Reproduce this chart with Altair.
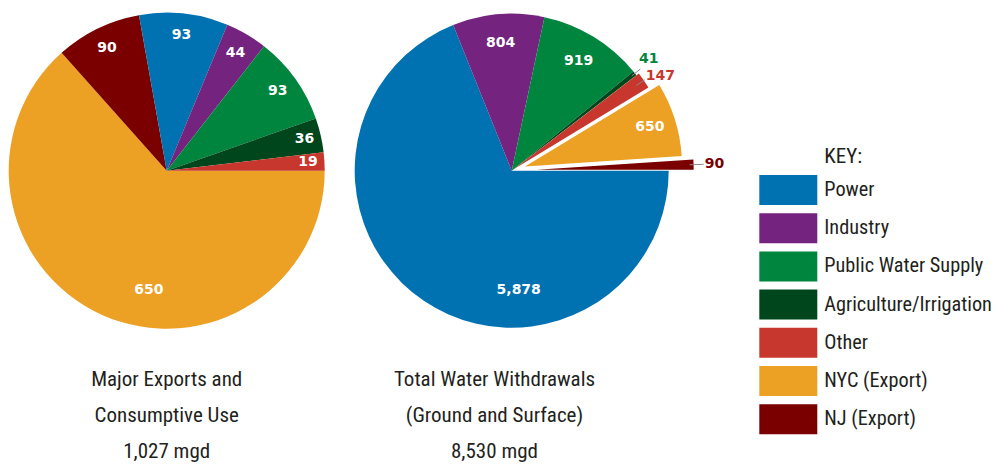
import math
import altair as alt
import pandas as pd

# ---------------- data ----------------
categories = ["Power", "Industry", "Public Water Supply", "Agriculture/Irrigation",
              "Other", "NYC (Export)", "NJ (Export)"]
colors = ["#0072b2", "#74237f", "#00853e", "#00461c", "#c8372d", "#eca024", "#7a0000"]

# Left pie: Major Exports and Consumptive Use (mgd), in drawing order (clockwise from 3 o'clock)
left_order = ["NYC (Export)", "NJ (Export)", "Power", "Industry", "Public Water Supply",
              "Agriculture/Irrigation", "Other"]
left_values = [650, 90, 93, 44, 93, 36, 19]

# Right pie: Total Water Withdrawals (Ground and Surface), mgd
right_order = ["Power", "Industry", "Public Water Supply", "Agriculture/Irrigation",
               "Other", "NYC (Export)", "NJ (Export)"]
right_values = [5878, 804, 919, 41, 147, 650, 90]

left_title = ["Major Exports and", "Consumptive Use", "1,027 mgd"]
right_title = ["Total Water Withdrawals", "(Ground and Surface)", "8,530 mgd"]
key_title = "KEY:"

rows = []
for i, (c, v) in enumerate(zip(left_order, left_values)):
    rows.append({"pie": "A", "cat": c, "value": v, "ord": i})
for i, (c, v) in enumerate(zip(right_order, right_values)):
    rows.append({"pie": "B", "cat": c, "value": v, "ord": i})
df = pd.DataFrame(rows)

# ---------------- styles ----------------
NARROW = ("'Noto Sans Condensed', 'Roboto Condensed', 'Open Sans Condensed', "
          "'Ubuntu Condensed', 'Liberation Sans Narrow', 'Noto Sans'")
NARROW_SIZE = 21
LEGEND_SIZE = 20.3
NUMFONT = "DejaVu Sans"
TXT = "#231f20"
CX = {"A": 158.7, "B": 503.7}
CY = 162.7
RADIUS = {"A": 158, "B": 157}

explode = {"B|Other": 3, "B|NYC (Export)": 14, "B|NJ (Export)": 25}
label_r_default = {"A": 136.5, "B": 128.5}
label_r = {"A|Agriculture/Irrigation": 141.5, "A|Other": 141.5, "A|NYC (Export)": 121,
           "B|Power": 120, "B|NYC (Export)": 131, "B|Agriculture/Irrigation": 177,
           "B|Other": 173, "B|NJ (Export)": 178}
label_shift = {"A|NYC (Export)": -15.7, "B|Power": -37.4,
               "B|Agriculture/Irrigation": -1, "B|Other": 2}
outside_color = {"B|Agriculture/Irrigation": "#00853e", "B|Other": "#c8372d",
                 "B|NJ (Export)": "#7a0000"}
leader_r1 = {"B|Agriculture/Irrigation": 153, "B|Other": 148, "B|NJ (Export)": 153}
leader_r2 = {"B|Agriculture/Irrigation": 164, "B|Other": 158, "B|NJ (Export)": 167}


def emap(d, default):
    e = repr(default) if isinstance(default, str) else str(default)
    for k, v in d.items():
        vv = repr(v) if isinstance(v, str) else str(v)
        e = f"(datum.key === {k!r} ? {vv} : {e})"
    return e


out_list = "[" + ",".join(repr(k) for k in outside_color) + "]"

base = (
    alt.Chart(df)
    .transform_joinaggregate(total="sum(value)", groupby=["pie"])
    .transform_window(cum="sum(value)", groupby=["pie"], sort=[alt.SortField("ord")],
                      frame=[None, 0])
    .transform_calculate(
        key="datum.pie + '|' + datum.cat",
        t0="(datum.cum - datum.value) / datum.total",
        t1="datum.cum / datum.total",
    )
    .transform_calculate(
        ang="PI / 2 + PI * (datum.t0 + datum.t1)",
        cx=f"datum.pie === 'A' ? {CX['A']} : {CX['B']}",
        ex=emap(explode, 0),
        lr=f"{emap(label_r, 0)} || (datum.pie === 'A' ? {label_r_default['A']} : {label_r_default['B']})",
        ls=emap(label_shift, 0),
        lc=emap(outside_color, "white"),
        out=f"indexof({out_list}, datum.key) >= 0",
        r1=emap(leader_r1, 0),
        r2=emap(leader_r2, 0),
    )
    .transform_calculate(
        px="datum.cx + datum.ex * sin(datum.ang)",
        py=f"{CY} - datum.ex * cos(datum.ang)",
    )
    .transform_calculate(
        la="datum.ang + datum.ls * PI / 180",
    )
    .transform_calculate(
        lx="datum.px + datum.lr * sin(datum.la)",
        ly="datum.py - datum.lr * cos(datum.la)",
        qx1="datum.px + datum.r1 * sin(datum.ang)",
        qy1="datum.py - datum.r1 * cos(datum.ang)",
        qx2="datum.px + datum.r2 * sin(datum.ang)",
        qy2="datum.py - datum.r2 * cos(datum.ang)",
    )
)

theta_scale = alt.Scale(domain=[0, 1], range=[math.pi / 2, math.pi / 2 + 2 * math.pi])
color_enc = alt.Color(
    "cat:N",
    scale=alt.Scale(domain=categories, range=colors),
    legend=alt.Legend(
        orient="none", legendX=751.3, legendY=167, title=None,
        symbolType="M-1.933,-1H1.933V1H-1.933Z", symbolSize=900,
        symbolStrokeWidth=0, symbolOffset=14, symbolOpacity=1,
        labelOffset=21, labelFont=NARROW, labelFontSize=LEGEND_SIZE, labelColor=TXT,
        labelLimit=400, rowPadding=8.2, padding=0, offset=0,
    ),
)
X = alt.X("px:Q", scale=None, axis=None)
Y = alt.Y("py:Q", scale=None, axis=None)


def arcs(pie):
    return (
        base.transform_filter(f"datum.pie === '{pie}'")
        .mark_arc(outerRadius=RADIUS[pie])
        .encode(theta=alt.Theta("t0:Q", scale=theta_scale), theta2="t1:Q",
                color=color_enc, x=X, y=Y)
    )


inner_labels = (
    base.transform_filter("!datum.out")
    .mark_text(font=NUMFONT, fontWeight="bold", fontSize=14, align="center",
               baseline="middle", color="white")
    .encode(x=alt.X("lx:Q", scale=None, axis=None), y=alt.Y("ly:Q", scale=None, axis=None),
            text=alt.Text("value:Q", format=","))
)
outer_labels = (
    base.transform_filter("datum.out")
    .mark_text(font=NUMFONT, fontWeight="bold", fontSize=14, align="center",
               baseline="middle")
    .encode(x=alt.X("lx:Q", scale=None, axis=None), y=alt.Y("ly:Q", scale=None, axis=None),
            text=alt.Text("value:Q", format=","), fill=alt.Fill("lc:N", scale=None))
)
leaders = (
    base.transform_filter("datum.out")
    .mark_rule(color="#8a8a8a", strokeWidth=1)
    .encode(x=alt.X("qx1:Q", scale=None, axis=None), y=alt.Y("qy1:Q", scale=None, axis=None),
            x2="qx2:Q", y2="qy2:Q")
)

one = pd.DataFrame({"k": [0]})


def title_text(lines, x):
    return (
        alt.Chart(one)
        .mark_text(font=NARROW, fontSize=NARROW_SIZE, color=TXT, align="center",
                   baseline="alphabetic", lineHeight=36)
        .encode(x=alt.value(x), y=alt.value(377.5), text=alt.value(lines))
    )


key_text = (
    alt.Chart(one)
    .mark_text(font=NARROW, fontSize=NARROW_SIZE, color=TXT, align="left", baseline="alphabetic")
    .encode(x=alt.value(816.3), y=alt.value(155), text=alt.value(key_title))
)

chart = (
    alt.layer(arcs("A"), arcs("B"), leaders, inner_labels, outer_labels,
              title_text(left_title, 158.7), title_text(right_title, 486.5), key_text)
    .properties(width=988, height=458, padding=0, autosize=alt.AutoSizeParams(type="none"))
    .configure_view(stroke=None)
)

chart.save("out.html", embed_options={"renderer": "svg", "actions": False})
